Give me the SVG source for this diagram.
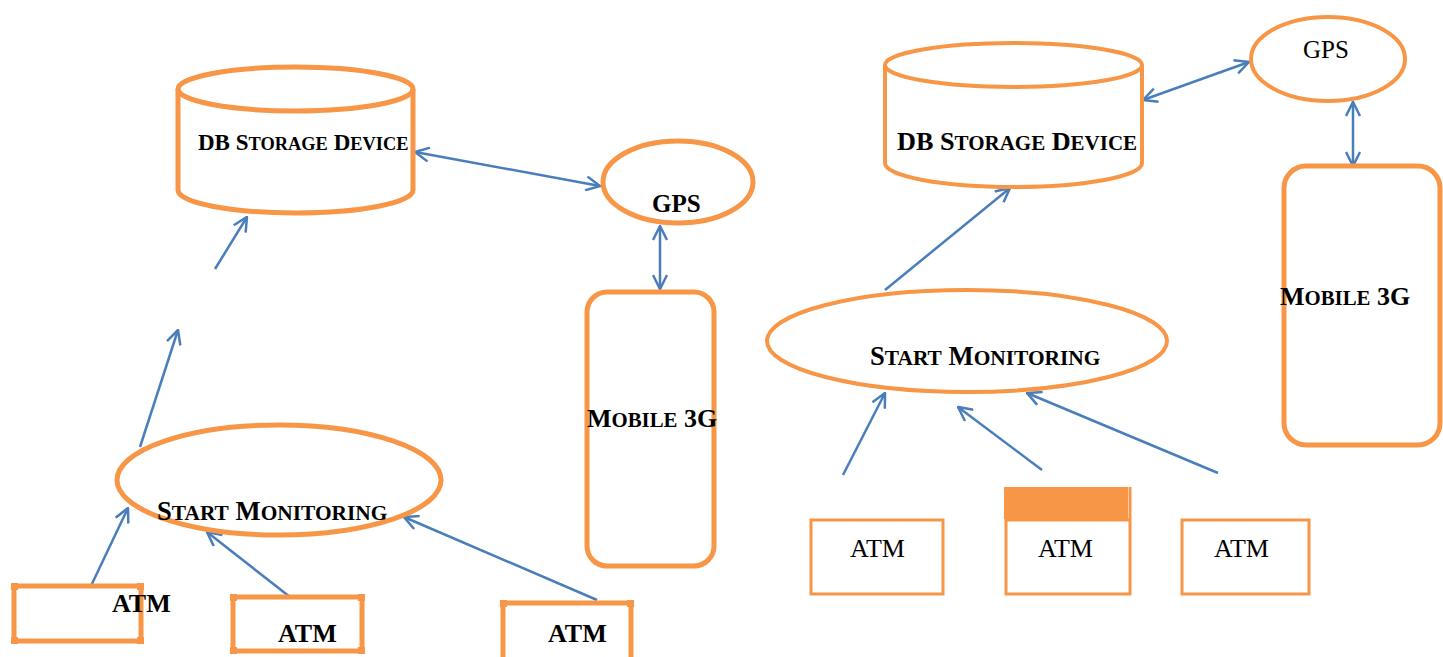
<svg xmlns="http://www.w3.org/2000/svg" width="1443" height="657" viewBox="0 0 1443 657">
<style>
.o{fill:none;stroke:#F79646;stroke-width:5}
.o4{fill:none;stroke:#F79646;stroke-width:4}
.o3{fill:none;stroke:#F79646;stroke-width:3}
.c{fill:#F79646}
.b{font-family:"Liberation Serif","Times New Roman",serif;font-weight:bold;fill:#000}
.r{font-family:"Liberation Serif","Times New Roman",serif;fill:#000}
.l{fill:none;stroke:#4A7EBB;stroke-width:2.5}
</style>
<defs>
<marker id="ah" viewBox="0 0 16 16" refX="15" refY="8" markerWidth="16" markerHeight="16" markerUnits="userSpaceOnUse" orient="auto-start-reverse">
<path d="M1,1 L15,8 L1,15" fill="none" stroke="#4A7EBB" stroke-width="2.5"/>
</marker>
</defs>
<rect width="1443" height="657" fill="#fff"/>

<g id="connectors">
<line class="l" x1="415" y1="152" x2="600" y2="186" marker-start="url(#ah)" marker-end="url(#ah)"/>
<line class="l" x1="660" y1="226" x2="660" y2="289" marker-start="url(#ah)" marker-end="url(#ah)"/>
<line class="l" x1="90" y1="588" x2="128" y2="508" marker-end="url(#ah)"/>
<line class="l" x1="290" y1="597" x2="207" y2="532" marker-end="url(#ah)"/>
<line class="l" x1="597" y1="600" x2="404" y2="517" marker-end="url(#ah)"/>
<line class="l" x1="140" y1="447" x2="178" y2="330" marker-end="url(#ah)"/>
<line class="l" x1="215" y1="269" x2="247" y2="217" marker-end="url(#ah)"/>
<line class="l" x1="1143" y1="100" x2="1249" y2="62" marker-start="url(#ah)" marker-end="url(#ah)"/>
<line class="l" x1="1353" y1="102" x2="1353" y2="166" marker-start="url(#ah)" marker-end="url(#ah)"/>
<line class="l" x1="885" y1="290" x2="1010" y2="188" marker-end="url(#ah)"/>
<line class="l" x1="843" y1="475" x2="885" y2="393" marker-end="url(#ah)"/>
<line class="l" x1="1042" y1="470" x2="958" y2="407" marker-end="url(#ah)"/>
<line class="l" x1="1218" y1="473" x2="1027" y2="393" marker-end="url(#ah)"/>
</g>

<g id="db-left">
<path class="o" d="M178,89 L178,190 A117.5,23 0 0 0 413,190 L413,89"/>
<ellipse class="o" cx="295.5" cy="89" rx="117.5" ry="22"/>
<text class="b" x="198" y="150" font-size="23">DB S<tspan font-size="18.4">TORAGE</tspan> D<tspan font-size="18.4">EVICE</tspan></text>
</g>

<g id="gps-left">
<ellipse class="o" cx="678" cy="182" rx="75" ry="41"/>
<text class="b" x="652" y="212" font-size="25">GPS</text>
</g>

<g id="mobile-left">
<rect class="o" x="587" y="292" width="127" height="274" rx="20"/>
<text class="b" x="587" y="427" font-size="26">M<tspan font-size="20.8">OBILE</tspan> 3G</text>
</g>

<g id="start-left">
<ellipse class="o" cx="279" cy="480" rx="162" ry="55"/>
<text class="b" x="157" y="520" font-size="26.6">S<tspan font-size="21.4">TART</tspan> M<tspan font-size="21.4">ONITORING</tspan></text>
</g>

<g id="atm-left-1">
<rect class="o" x="14" y="586" width="127" height="55"/>
<rect class="c" x="11" y="583" width="7" height="7"/><rect class="c" x="137" y="583" width="7" height="7"/>
<rect class="c" x="11" y="637" width="7" height="7"/><rect class="c" x="137" y="637" width="7" height="7"/>
<text class="b" x="112" y="612" font-size="26">ATM</text>
</g>

<g id="atm-left-2">
<rect class="o" x="233" y="597" width="129" height="54"/>
<rect class="c" x="230" y="594" width="7" height="7"/><rect class="c" x="358" y="594" width="7" height="7"/>
<rect class="c" x="230" y="647" width="7" height="7"/><rect class="c" x="358" y="647" width="7" height="7"/>
<text class="b" x="278" y="642" font-size="26">ATM</text>
</g>

<g id="atm-left-3">
<rect class="o" x="503" y="603" width="128" height="62"/>
<rect class="c" x="500" y="600" width="7" height="7"/><rect class="c" x="627" y="600" width="7" height="7"/>
<text class="b" x="548" y="642" font-size="26">ATM</text>
</g>

<g id="db-right">
<path class="o4" d="M885,65 L885,163 A128.5,24 0 0 0 1142,163 L1142,65"/>
<ellipse class="o4" cx="1013.5" cy="65" rx="128.5" ry="22"/>
<text class="b" x="897" y="150" font-size="26.2">DB S<tspan font-size="21">TORAGE</tspan> D<tspan font-size="21">EVICE</tspan></text>
</g>

<g id="gps-right">
<ellipse class="o4" cx="1328" cy="59" rx="77" ry="42"/>
<text class="r" x="1303" y="58" font-size="25">GPS</text>
</g>

<g id="mobile-right">
<rect class="o" x="1284" y="166" width="156" height="279" rx="22"/>
<text class="b" x="1280" y="305" font-size="26">M<tspan font-size="20.8">OBILE</tspan> 3G</text>
</g>

<g id="start-right">
<ellipse class="o4" cx="967" cy="341" rx="200" ry="51"/>
<text class="b" x="870" y="365" font-size="26.6">S<tspan font-size="21.4">TART</tspan> M<tspan font-size="21.4">ONITORING</tspan></text>
</g>

<g id="atm-right-1">
<rect class="o3" x="811" y="520" width="132" height="74"/>
<text class="r" x="850" y="557" font-size="26">ATM</text>
</g>

<g id="atm-right-2">
<rect class="c" x="1004" y="487" width="124" height="32"/>
<line class="o3" x1="1130" y1="487" x2="1130" y2="519"/>
<rect class="o3" x="1006" y="520" width="124" height="74"/>
<text class="r" x="1038" y="557" font-size="26">ATM</text>
</g>

<g id="atm-right-3">
<rect class="o3" x="1182" y="520" width="127" height="74"/>
<text class="r" x="1214" y="557" font-size="26">ATM</text>
</g>
</svg>
